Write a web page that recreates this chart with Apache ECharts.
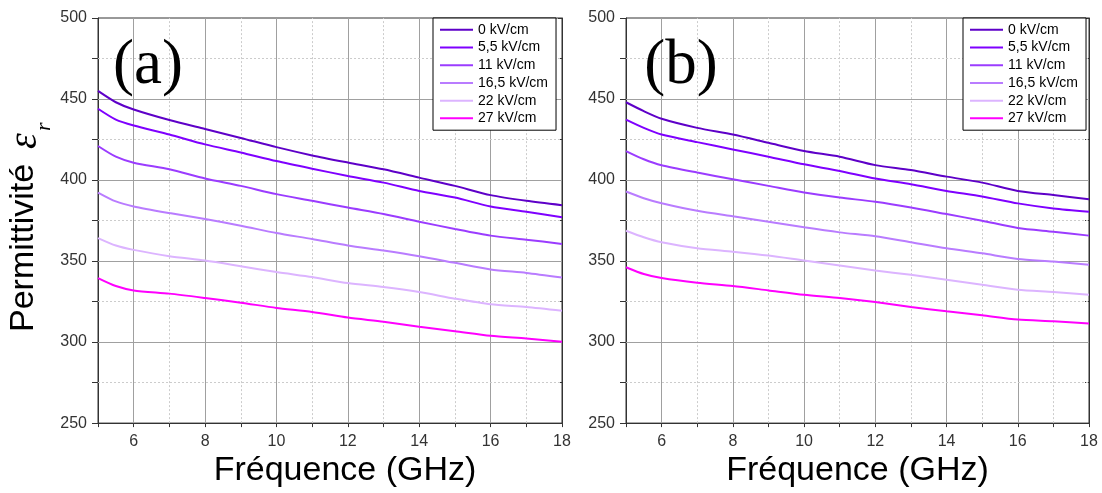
<!DOCTYPE html>
<html><head><meta charset="utf-8">
<script src="https://cdn.jsdelivr.net/npm/echarts@6/dist/echarts.min.js"></script>
<style>html,body{margin:0;padding:0;background:#fff}#c{width:1102px;height:493px}</style>
</head><body><div id="c"></div>
<script>
// ---- data ----
const freq = [5, 5.5, 6, 7, 8, 9, 10, 11, 12, 13, 14, 15, 16, 17, 18];
const seriesNames = ['0 kV/cm', '5,5 kV/cm', '11 kV/cm', '16,5 kV/cm', '22 kV/cm', '27 kV/cm'];
// panel (a)
const a0 = [455, 448, 443.5, 437, 431.5, 426, 420.3, 415.2, 410.8, 406.6, 401.5, 396.4, 390.7, 387.2, 384.5];
const a1 = [444, 437.3, 433.7, 428.1, 422, 417, 411.7, 407, 402.5, 398.4, 393.3, 389.2, 383.7, 380.4, 377];
const a2 = [421, 414.4, 410.7, 406.6, 401, 396.4, 391.3, 387.2, 383, 379, 374.3, 369.8, 365.7, 363.2, 360.6];
const a3 = [392.3, 386.8, 383.7, 379.6, 375.9, 371.8, 367.3, 363.6, 359.6, 356.5, 353, 348.9, 344.8, 342.7, 339.9];
const a4 = [364.2, 359.6, 356.9, 353, 350.3, 346.8, 343.2, 340.1, 336.4, 334, 330.9, 326.8, 323.3, 321.7, 319.4];
const a5 = [339.5, 334.6, 331.9, 329.9, 327.2, 324.3, 321.1, 318.6, 315.1, 312.5, 309.4, 306.7, 303.9, 302.2, 300.2];
// panel (b)
const b0 = [448, 442.5, 437.8, 432.2, 428.1, 423, 417.9, 414.4, 409.2, 406.2, 402.1, 398.4, 393.3, 390.7, 388.2];
const b1 = [437.3, 432.2, 428.1, 423.4, 418.9, 414.4, 409.7, 405.6, 400.9, 397.4, 393.3, 389.9, 385.6, 382.5, 380.4];
const b2 = [417.9, 412.8, 409.1, 404.6, 400.5, 396.4, 392.3, 389.2, 386.6, 383.1, 379, 374.9, 370.4, 368.1, 365.7];
const b3 = [392.9, 388.8, 385.7, 381, 377.6, 374.3, 370.8, 367.7, 365.3, 361.6, 357.9, 354.8, 351.3, 349.7, 347.7];
const b4 = [368.7, 364.7, 361.6, 357.9, 355.8, 353.4, 350.3, 347.3, 344.2, 341.5, 338.5, 335.4, 332.3, 330.9, 329.2];
const b5 = [346.2, 342, 339.5, 336.6, 334.6, 331.9, 329.2, 327.2, 324.7, 321.7, 319, 316.5, 313.9, 312.8, 311.4];
// gridlines / ticks
const majorX = [6, 8, 10, 12, 14, 16];
const minorX = [7, 9, 11, 13, 15, 17];
const majorY = [300, 350, 400, 450];
const minorY = [275, 325, 375, 425, 475];

// ---- styles ----
const colors = ['#5e00c8', '#7f00ff', '#9b3cff', '#b97cff', '#dcb4ff', '#ff00ff'];
const sans = '"Liberation Sans", Arial, sans-serif';
const serif = '"Liberation Serif", "Times New Roman", serif';
const axisColor = '#333';

const panels = [[a0, a1, a2, a3, a4, a5], [b0, b1, b2, b3, b4, b5]];
const grids = [
  {left: 98, top: 18, width: 464, height: 407},
  {left: 626, top: 18, width: 463, height: 407}
];

function xAxisFor(gi) {
  return {
    type: 'value', gridIndex: gi, min: 5, max: 18, interval: 1,
    name: 'Fréquence (GHz)', nameLocation: 'middle', nameGap: 29,
    nameTextStyle: {fontFamily: sans, fontSize: 34, color: '#000',
      padding: gi === 0 ? [0, 0, 0, 30] : [0, 0, 0, 0]},
    axisLine: {show: true, onZero: false, lineStyle: {color: axisColor, width: 1}},
    axisTick: {show: true, inside: false, length: 4, lineStyle: {color: axisColor}},
    axisLabel: {show: true, margin: 10, fontFamily: sans, fontSize: 16, color: '#333',
      formatter: v => (v % 2 === 0 ? String(v) : '')},
    splitLine: {show: false}
  };
}
function yAxisFor(gi, right) {
  return {
    type: 'value', gridIndex: gi, min: 250, max: 500, interval: 25,
    position: right ? 'right' : 'left',
    axisLine: {show: true, onZero: false, lineStyle: {color: axisColor, width: 1}},
    axisTick: {show: true, inside: !!right, length: right ? 4 : 6, lineStyle: {color: axisColor}},
    axisLabel: {show: !right, margin: 11, fontFamily: sans, fontSize: 16, color: '#333',
      formatter: v => (v % 50 === 0 ? String(v) : '')},
    splitLine: {show: false}
  };
}

const series = [];
panels.forEach((vals, gi) => {
  // gridlines helper
  const ml = [];
  majorX.forEach(v => ml.push({xAxis: v, lineStyle: {color: '#a0a0a0', width: 1, type: 'solid'}}));
  minorX.forEach(v => ml.push({xAxis: v, lineStyle: {color: '#cccccc', width: 1, type: [2, 2]}}));
  majorY.forEach(v => ml.push({yAxis: v, lineStyle: {color: '#a0a0a0', width: 1, type: 'solid'}}));
  minorY.forEach(v => ml.push({yAxis: v, lineStyle: {color: '#cccccc', width: 1, type: [2, 2]}}));
  series.push({
    type: 'line', name: '_grid' + gi, xAxisIndex: gi, yAxisIndex: gi * 2,
    data: [[5, 250]], showSymbol: false, silent: true, z: 1,
    lineStyle: {width: 0},
    markLine: {silent: true, z: 1, symbol: ['none', 'none'], label: {show: false},
      animation: false, emphasis: {disabled: true}, data: ml}
  });
  vals.forEach((arr, si) => {
    series.push({
      type: 'line', name: seriesNames[si], xAxisIndex: gi, yAxisIndex: gi * 2,
      data: freq.map((f, i) => [f, arr[i]]),
      showSymbol: false, smooth: 0.25, z: 3,
      lineStyle: {color: colors[si], width: 2},
      itemStyle: {color: colors[si]},
      emphasis: {disabled: true}
    });
  });
});

function legendAt(left) {
  return {
    orient: 'vertical', left: left, top: 18,
    padding: [3, 8, 3, 7], itemWidth: 33, itemHeight: 2, itemGap: 0, icon: 'rect',
    borderColor: '#000', borderWidth: 1, backgroundColor: '#fff', borderRadius: 0,
    textStyle: {fontFamily: sans, fontSize: 14, color: '#000', lineHeight: 17.7},
    data: seriesNames, selectedMode: false
  };
}

const option = {
  animation: false,
  backgroundColor: '#fff',
  grid: grids.map(g => Object.assign({show: true, borderColor: axisColor, borderWidth: 1, backgroundColor: 'transparent', containLabel: false}, g)),
  xAxis: [xAxisFor(0), xAxisFor(1)],
  yAxis: [yAxisFor(0, false), yAxisFor(0, true), yAxisFor(1, false), yAxisFor(1, true)],
  legend: [legendAt(433), legendAt(963)],
  series: series,
  graphic: [
    {type: 'text', x: 148, y: 66, z: 10,
      style: {text: '(a)', font: '63px ' + serif, fill: '#000', align: 'center', verticalAlign: 'middle'}},
    {type: 'text', x: 681, y: 66, z: 10,
      style: {text: '(b)', font: '63px ' + serif, fill: '#000', align: 'center', verticalAlign: 'middle'}},
    {type: 'group', x: 24, y: 232, rotation: Math.PI / 2, z: 10, children: [
      {type: 'text', x: -100, y: 0,
        style: {text: 'Permittivité', font: '34px ' + sans, fill: '#000', align: 'left', verticalAlign: 'middle'}},
      {type: 'text', x: 83, y: 1,
        style: {text: 'ε', font: 'italic 40px ' + serif, fill: '#000', align: 'left', verticalAlign: 'middle'}},
      {type: 'text', x: 101, y: 20,
        style: {text: 'r', font: 'italic 22px ' + serif, fill: '#000', align: 'left', verticalAlign: 'middle'}}
    ]}
  ]
};

const chart = echarts.init(document.getElementById('c'), null, {renderer: 'canvas'});
chart.setOption(option);
</script>
</body></html>
